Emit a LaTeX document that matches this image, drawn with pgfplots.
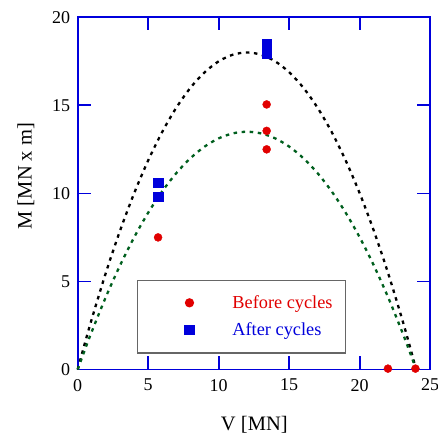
\documentclass[border=0pt]{standalone}
\usepackage{pgfplots}
\pgfplotsset{compat=1.18}
\usepackage{fontspec}
\setmainfont{Liberation Serif}
\definecolor{myblue}{RGB}{0,0,220}
\definecolor{myred}{RGB}{225,0,0}
\definecolor{mygreen}{RGB}{0,95,30}
\pgfplotsset{myleg/.style={legend image code/.code={\path (-45pt,0pt) (40.3pt,0pt); \draw[##1] plot coordinates {(0pt,0pt)};}}}
\begin{document}
\begin{tikzpicture}
\begin{axis}[
  scale only axis, width=352.3pt, height=352pt,
  xmin=0, xmax=25, ymin=0, ymax=20,
  xtick={0,5,10,15,20,25}, ytick={0,5,10,15,20},
  minor tick num=0,
  tick align=inside, major tick length=13pt,
  xtick pos=both, ytick pos=both,
  axis line style={myblue, line width=1.7pt},
  every tick/.style={myblue, line width=1.7pt},
  /pgf/number format/assume math mode=true,
  tick label style={font=\fontsize{18}{20}\selectfont},
  xticklabel style={yshift=-6pt},
  yticklabel style={xshift=-4pt},
  label style={font=\fontsize{20.5}{24}\selectfont},
  xlabel={V [MN]}, ylabel={M [MN x m]},
  xlabel style={at={(axis description cs:0.501,-0.1724)}, anchor=base},
  ylabel style={at={(axis description cs:-0.1306,0.549)}, anchor=base},
  clip=false,
  legend style={at={(axis cs:4.18,5.11)}, anchor=north west,
    draw=black!60, line width=1.2pt, fill=white,
    inner xsep=6.6pt, inner ysep=13.5pt, row sep=9pt,
    font=\fontsize{18.3}{22}\selectfont,
    /tikz/every even column/.style={column sep=0pt}},
  legend cell align=left,
]
\coordinate (bbll) at (axis cs:-5.51,-3.69);
\coordinate (bbur) at (axis cs:25.55,20.98);
\addplot[black, line width=2.3pt, dash pattern=on 3.5pt off 4.6pt, smooth, forget plot] coordinates {
(0,0) (0.5,1.469) (1,2.875) (2,5.5) (3,7.875) (4,10.0) (5,11.875) (6,13.5) (7,14.875) (8,16.0) (9,16.875) (10,17.5) (11,17.875) (12,18.0)
(13,17.875) (14,17.5) (15,16.875) (16,16.0) (17,14.875) (18,13.5) (19,11.875) (20,10.0) (21,7.875) (22,5.5) (23,2.875) (23.5,1.469) (24,0)};
\addplot[mygreen, line width=2.3pt, dash pattern=on 3.5pt off 4.6pt, smooth, forget plot] coordinates {
(0,0) (0.5,1.102) (1,2.156) (2,4.125) (3,5.906) (4,7.5) (5,8.906) (6,10.125) (7,11.156) (8,12.0) (9,12.656) (10,13.125) (11,13.406) (12,13.5)
(13,13.406) (14,13.125) (15,12.656) (16,12.0) (17,11.156) (18,10.125) (19,8.906) (20,7.5) (21,5.906) (22,4.125) (23,2.156) (23.5,1.102) (24,0)};
\addplot[only marks, mark=*, mark size=4pt, myred, mark options={draw=myred, fill=myred}, myleg] coordinates {
(5.7,7.5) (13.4,15.05) (13.4,13.55) (13.4,12.5) (22,0.05) (23.95,0.05)};
\addlegendentry{\textcolor{myred}{Before cycles}\rule{4pt}{0pt}}
\addplot[only marks, mark=square*, mark size=4.65pt, myblue, mark options={draw=myblue, fill=myblue}, myleg] coordinates {
(5.7,10.6) (5.7,9.8) (13.4,18.47) (13.4,17.95)};
\addlegendentry{\textcolor{myblue}{After cycles}}
\end{axis}
\pgfresetboundingbox
\path (bbll) rectangle (bbur);
\end{tikzpicture}
\end{document}
